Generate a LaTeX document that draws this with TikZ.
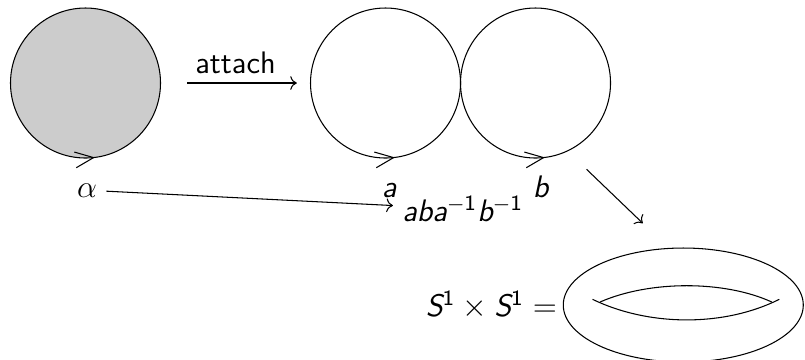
\documentclass[tikz,border=0pt]{standalone}
\usepackage{fontspec}
\usepackage{tikz}
\usetikzlibrary{positioning,arrows.meta,decorations.markings,shapes.geometric}
\newcommand{\mv}[1]{{\itshape #1}}
\newcommand{\inv}{\textsuperscript{$-$1}}

\begin{document}
\begin{tikzpicture}[font=\fontsize{11.8}{14}\selectfont\sffamily,
  loopnode/.style={circle, draw, minimum size=2cm, inner sep=0pt,
    postaction={decorate, decoration={markings,
      mark=at position 0.77 with {\arrow{Straight Barb[length=7pt,width=6pt]}}}}}]
  \useasboundingbox (-1.14,1.107) rectangle (9.593,-3.68);
  % Disk and the two loops
  \node[loopnode, fill=black!20] (disk) at (0,0) {};
  \node[loopnode] (loopa) at (4,0) {};
  \node[loopnode] (loopb) at (6,0) {};
  \draw[->, shorten <=10pt, shorten >=5pt] (disk) -- (loopa)
    node[midway, above] {attach};
  % Labels of the loops
  \node[anchor=base] (alpha) at (0.02,-1.52) {$\alpha$};
  \node[anchor=base] (la) at (4.05,-1.52) {\mv{a}};
  \node[anchor=base] (lb) at (6.07,-1.52) {\mv{b}};
  \node[anchor=base] (word) at (5.03,-1.853) {\mv{aba}\inv\mv{b}\inv};
  \draw[->] (alpha) -- (word);
  % Torus
  \node[ellipse, draw, minimum width=3.2cm, minimum height=1.52cm,
    inner sep=0pt] (torus) at (7.97,-2.96) {};
  \begin{scope}[shift={(torus.center)}]
    \draw (-1.21,0.076) .. controls (-0.45,-0.29) and (0.55,-0.29) .. (1.28,0.076);
    \draw (-1.11,0.04) .. controls (-0.45,0.33) and (0.55,0.33) .. (1.18,0.04);
  \end{scope}
  \node[left=0pt of torus, inner sep=2pt] (prod)
    {\mv{S}\textsuperscript{1}${}\times{}$\mv{S}\textsuperscript{1}${}=$};
  \coordinate (bstart) at (6.68,-1.15);
  \coordinate (bend) at (7.43,-1.87);
  \draw[->] (bstart) -- (bend);
\end{tikzpicture}
\end{document}
